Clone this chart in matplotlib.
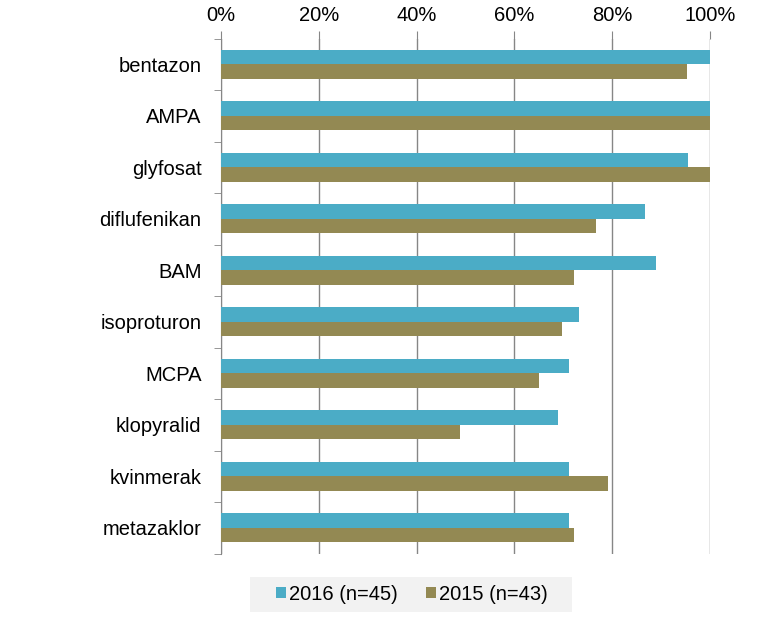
import matplotlib.pyplot as plt
from matplotlib.patches import Rectangle
import numpy as np

plt.rcParams['font.family'] = ['Liberation Sans', 'DejaVu Sans']

categories = ['bentazon', 'AMPA', 'glyfosat', 'diflufenikan', 'BAM',
              'isoproturon', 'MCPA', 'klopyralid', 'kvinmerak', 'metazaklor']
share_2016 = [100, 100, 95.6, 86.7, 88.9, 73.3, 71.1, 68.9, 71.1, 71.1]
share_2015 = [95.3, 100, 100, 76.7, 72.1, 69.8, 65.1, 48.8, 79.1, 72.1]
series_labels = ['2016 (n=45)', '2015 (n=43)']

teal = '#4BACC6'
olive = '#938953'
grid_col = '#868686'
fs = 14.5
W, H = 767, 622

fig = plt.figure(figsize=(W / 100, H / 100), dpi=100)
ax = fig.add_axes([221 / W, 1 - 553.5 / H, 489 / W, (553.5 - 38.5) / H])

y = np.arange(len(categories))
h = 0.285
ax.barh(y - h / 2, share_2016, height=h, color=teal, label=series_labels[0], zorder=3)
ax.barh(y + h / 2, share_2015, height=h, color=olive, label=series_labels[1], zorder=3)

ax.set_xlim(0, 100)
ax.set_ylim(len(categories) - 0.5, -0.5)

# percent axis on top
ax.xaxis.tick_top()
ax.set_xticks(np.arange(0, 101, 20))
ax.set_xticklabels([f'{v}%' for v in range(0, 101, 20)], fontsize=fs)
ax.tick_params(axis='x', which='major', length=6, color=grid_col, pad=4)
ax.grid(axis='x', color=grid_col, linewidth=1, zorder=0)

# category labels, with small marks between categories
ax.set_yticks(y)
ax.set_yticklabels(categories, fontsize=fs)
ax.tick_params(axis='y', which='major', length=0, pad=14)
ax.set_yticks(np.arange(-0.5, len(categories)), minor=True)
ax.tick_params(axis='y', which='minor', length=5, color=grid_col)

for side in ['top', 'right', 'bottom']:
    ax.spines[side].set_visible(False)
ax.spines['left'].set_color(grid_col)

# grey legend box, wider than the entries
fig.patches.append(Rectangle((250 / W, 1 - 612 / H), 322 / W, 35 / H,
                             transform=fig.transFigure, facecolor='#F2F2F2',
                             edgecolor='none', zorder=0))
fig.legend(loc='center', bbox_to_anchor=(412 / W, 1 - 594 / H), ncol=2,
           fontsize=fs, frameon=False,
           handlelength=0.5, handleheight=0.5,
           handletextpad=0.15, columnspacing=1.4, borderaxespad=0)

fig.savefig('out.png', dpi=100)
